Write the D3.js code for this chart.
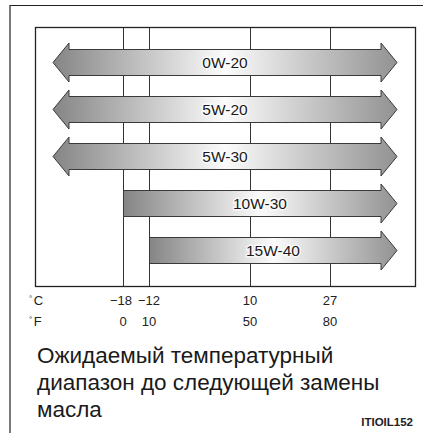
<!DOCTYPE html>
<html>
<head>
<meta charset="utf-8">
<script src="https://cdn.jsdelivr.net/npm/d3@7/dist/d3.min.js"></script>
<style>
  html, body { margin: 0; padding: 0; background: #fff; }
  svg { display: block; font-family: "Liberation Sans", Arial, sans-serif; }
</style>
</head>
<body>
<svg id="chart" width="431" height="433"></svg>
<script>
// Oil viscosity grades and the lowest ambient temperature (°C) each one covers.
// null = no lower limit (arrow continues to the left).
const grades = ["0W-20", "5W-20", "5W-30", "10W-30", "15W-40"];
const minTempC = [null, null, null, -18, -12];

// Temperature tick labels
const ticksC = [-18, -12, 10, 27];
const ticksF = [0, 10, 50, 80];

const captionLines = [
  "Ожидаемый температурный",
  "диапазон до следующей замены",
  "масла"
];
const figureCode = "ITIOIL152";

const svg = d3.select("#chart");

const box = { left: 35, right: 415, top: 27, bottom: 286 };
const open = 18; // space between open-ended arrow tips and the frame

// Uneven temperature axis: a piecewise-linear scale through the tick temperatures
const x = d3.scaleLinear()
  .domain(ticksC)
  .range([123, 149, 250, 330]);

const y = d3.scaleBand()
  .domain(grades)
  .range([39, 274])
  .padding(0);

// Outer page frame (top and left rules)
svg.append("path")
  .attr("d", `M10,433 V5.5 H423`)
  .attr("fill", "none")
  .attr("stroke", "#222")
  .attr("stroke-width", 1.2);

// Vertical temperature gridlines
svg.append("g")
  .selectAll("line")
  .data(ticksC)
  .join("line")
  .attr("x1", d => x(d) + 0.5)
  .attr("x2", d => x(d) + 0.5)
  .attr("y1", box.top)
  .attr("y2", box.bottom)
  .attr("stroke", "#333")
  .attr("stroke-width", 1);

// Gradient shared by all arrows (bounding-box units so it follows each shape)
const defs = svg.append("defs");
const grad = defs.append("linearGradient")
  .attr("id", "arrowFill")
  .attr("x1", "0").attr("x2", "1").attr("y1", "0").attr("y2", "0");
grad.append("stop").attr("offset", "0").attr("stop-color", "#858585");
grad.append("stop").attr("offset", "0.5").attr("stop-color", "#fbfbfb");
grad.append("stop").attr("offset", "1").attr("stop-color", "#929292");

const bodyHalf = 13, headHalf = 19.5, headLen = 16;

function arrowPath(x0, x1, cy, leftHead) {
  const t = cy - bodyHalf, b = cy + bodyHalf;
  const ht = cy - headHalf, hb = cy + headHalf;
  const pts = [];
  if (leftHead) {
    pts.push([x0, cy], [x0 + headLen, ht], [x0 + headLen, t]);
  } else {
    pts.push([x0, t]);
  }
  pts.push([x1 - headLen, t], [x1 - headLen, ht], [x1, cy], [x1 - headLen, hb], [x1 - headLen, b]);
  if (leftHead) {
    pts.push([x0 + headLen, b], [x0 + headLen, hb]);
  } else {
    pts.push([x0, b]);
  }
  return "M" + pts.map(p => p.join(",")).join("L") + "Z";
}

const rows = grades.map((g, i) => ({ grade: g, min: minTempC[i] }));

const arrows = svg.append("g")
  .selectAll("g")
  .data(rows)
  .join("g");

arrows.append("path")
  .attr("d", d => {
    const cy = y(d.grade) + y.bandwidth() / 2;
    const x0 = d.min === null ? box.left + open : x(d.min) + 0.5;
    const x1 = box.right - open;
    return arrowPath(x0, x1, cy, d.min === null);
  })
  .attr("fill", "url(#arrowFill)")
  .attr("stroke", "#3a3a3a")
  .attr("stroke-width", 1)
  .attr("stroke-linejoin", "miter");

arrows.append("text")
  .attr("x", d => {
    const x0 = d.min === null ? box.left + open : x(d.min);
    return (x0 + box.right - open) / 2;
  })
  .attr("y", d => y(d.grade) + y.bandwidth() / 2 + 5.5)
  .attr("text-anchor", "middle")
  .attr("font-size", 15.5)
  .attr("fill", "#1a1a1a")
  .attr("stroke", "#fff")
  .attr("stroke-width", 3)
  .attr("stroke-opacity", 0.7)
  .attr("paint-order", "stroke")
  .text(d => d.grade);

// Inner plot frame drawn last so it stays crisp on top
svg.append("rect")
  .attr("x", box.left + 0.5)
  .attr("y", box.top + 0.5)
  .attr("width", box.right - box.left)
  .attr("height", box.bottom - box.top)
  .attr("fill", "none")
  .attr("stroke", "#222")
  .attr("stroke-width", 1.3);

// Temperature scales: °C row and °F row
const fmt = v => (v < 0 ? "\u2212" + Math.abs(v) : String(v));

function unitLabel(yBase, unit) {
  const t = svg.append("text")
    .attr("x", 29)
    .attr("y", yBase)
    .attr("font-size", 13)
    .attr("fill", "#222");
  t.append("tspan").attr("font-size", 8).attr("dy", -4).text("°");
  t.append("tspan").attr("dy", 4).attr("dx", 1.5).text(unit);
}
unitLabel(305, "C");
unitLabel(326, "F");

svg.append("g")
  .selectAll("text")
  .data(ticksC)
  .join("text")
  .attr("x", d => x(d) - (d === -18 ? 2 : 0))
  .attr("y", 305)
  .attr("text-anchor", "middle")
  .attr("font-size", 13)
  .attr("fill", "#222")
  .text(fmt);

svg.append("g")
  .selectAll("text")
  .data(ticksF)
  .join("text")
  .attr("x", (d, i) => x(ticksC[i]))
  .attr("y", 326)
  .attr("text-anchor", "middle")
  .attr("font-size", 13)
  .attr("fill", "#222")
  .text(fmt);

// Caption
svg.append("g")
  .selectAll("text")
  .data(captionLines)
  .join("text")
  .attr("x", 37)
  .attr("y", (d, i) => 363 + i * 27)
  .attr("font-size", 22.5)
  .attr("fill", "#1a1a1a")
  .text(d => d);

svg.append("text")
  .attr("x", 413)
  .attr("y", 426)
  .attr("text-anchor", "end")
  .attr("font-size", 11.5)
  .attr("font-weight", "bold")
  .attr("fill", "#222")
  .text(figureCode);
</script>
</body>
</html>
